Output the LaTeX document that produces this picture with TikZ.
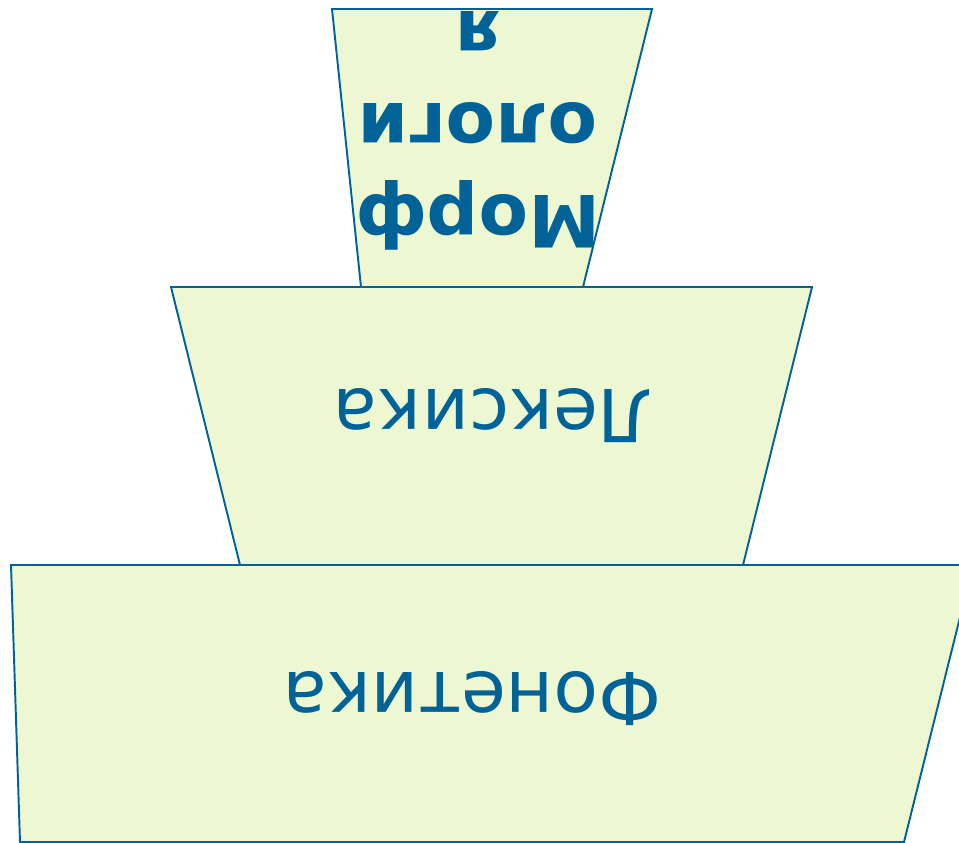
\documentclass[tikz,border=0pt]{standalone}
\usepackage{fontspec}
\setmainfont{DejaVu Sans}
\usepackage{xcolor}
\usepackage{tikz}
\definecolor{lightlime}{RGB}{237,248,211}
\definecolor{deepblue}{RGB}{0,98,150}

\begin{document}
\begin{tikzpicture}[
    x=0.02cm, y=-0.02cm,
    layer/.style={draw=deepblue, fill=lightlime, line width=1.1pt, line join=miter},
    label/.style={rotate=180, text=deepblue, align=center, inner sep=0pt, font=\fontsize{41.5}{52}\selectfont}
]
\useasboundingbox (0,0) rectangle (959,842);
\clip (0,0) rectangle (959,842);

% levels from the base up
\path[layer] (11,565) -- (973,565) -- (904,842) -- (20,842) -- cycle;
\path[layer] (171,287) -- (812,287) -- (743,565) -- (240,565) -- cycle;
\path[layer] (332,9) -- (652,9) -- (583,287) -- (361,287) -- cycle;

\node[label] (phonetics) at (472,699) {Фонетика};
\node[label] (lexis) at (493,416) {Лексика};
\node[label, font=\fontsize{41}{52.5}\selectfont\bfseries] (morphology) at (478,131) {Морф\\ологи\\я};

\end{tikzpicture}
\end{document}
